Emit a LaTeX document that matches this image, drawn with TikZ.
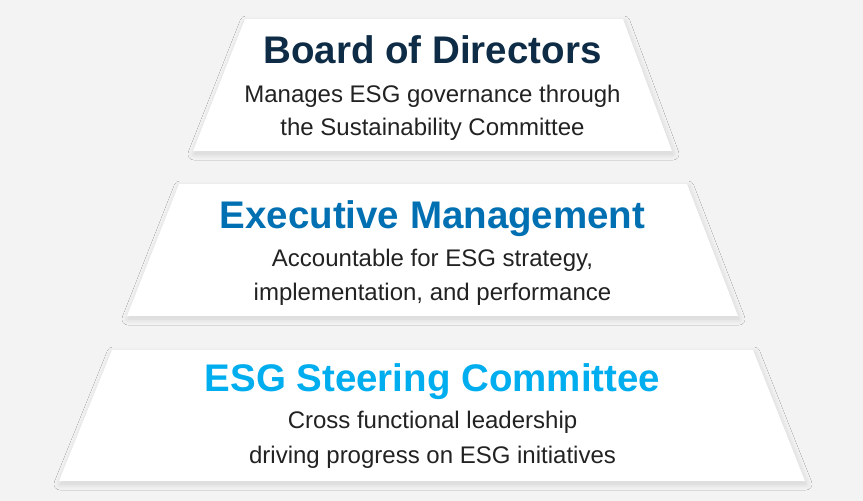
\documentclass[tikz,border=0pt]{standalone}
\usepackage{fontspec}
\setmainfont{Liberation Sans}
\usetikzlibrary{shadows.blur}
\definecolor{bgray}{RGB}{243,243,243}
\definecolor{boardnavy}{RGB}{14,44,70}
\definecolor{execblue}{RGB}{0,112,178}
\definecolor{esgcyan}{RGB}{0,174,239}
\definecolor{bodytext}{RGB}{34,34,34}

\begin{document}
\begin{tikzpicture}[x=1pt, y=-1pt,
    tier/.style={fill=white, blur shadow={shadow xshift=1pt, shadow yshift=-3pt, shadow blur radius=6pt, shadow blur steps=10, shadow opacity=14}},
    tiertitle/.style={anchor=base, inner sep=0pt, font=\fontsize{38.5}{40}\selectfont\bfseries},
    tierbody/.style={anchor=base, inner sep=0pt, text=bodytext, font=\fontsize{24}{26}\selectfont}]
    % Background
    \fill[bgray] (0,0) rectangle (863,501);
    \useasboundingbox (0,0) rectangle (863,501);
    % Tiers
    \fill[tier] (245,19) -- (623,19) -- (672,151) -- (193,151) -- cycle;
    \fill[tier] (179,184) -- (687,184) -- (738,316) -- (127,316) -- cycle;
    \fill[tier] (112,350) -- (753,350) -- (805,481) -- (59,481) -- cycle;
    % Board of Directors
    \node[tiertitle, text=boardnavy] (board) at (432.5,63) {Board of Directors};
    \node[tierbody] (boardA) at (432.5,102) {Manages ESG governance through};
    \node[tierbody] (boardB) at (432.5,135) {the Sustainability Committee};
    % Executive Management
    \node[tiertitle, text=execblue] (exec) at (432.5,228) {Executive Management};
    \node[tierbody] (execA) at (432.5,266) {Accountable for ESG strategy,};
    \node[tierbody] (execB) at (432.5,300) {implementation, and performance};
    % ESG Steering Committee
    \node[tiertitle, text=esgcyan] (steer) at (432.5,391) {ESG Steering Committee};
    \node[tierbody] (steerA) at (432.5,428) {Cross functional leadership};
    \node[tierbody] (steerB) at (432.5,463) {driving progress on ESG initiatives};
\end{tikzpicture}
\end{document}
